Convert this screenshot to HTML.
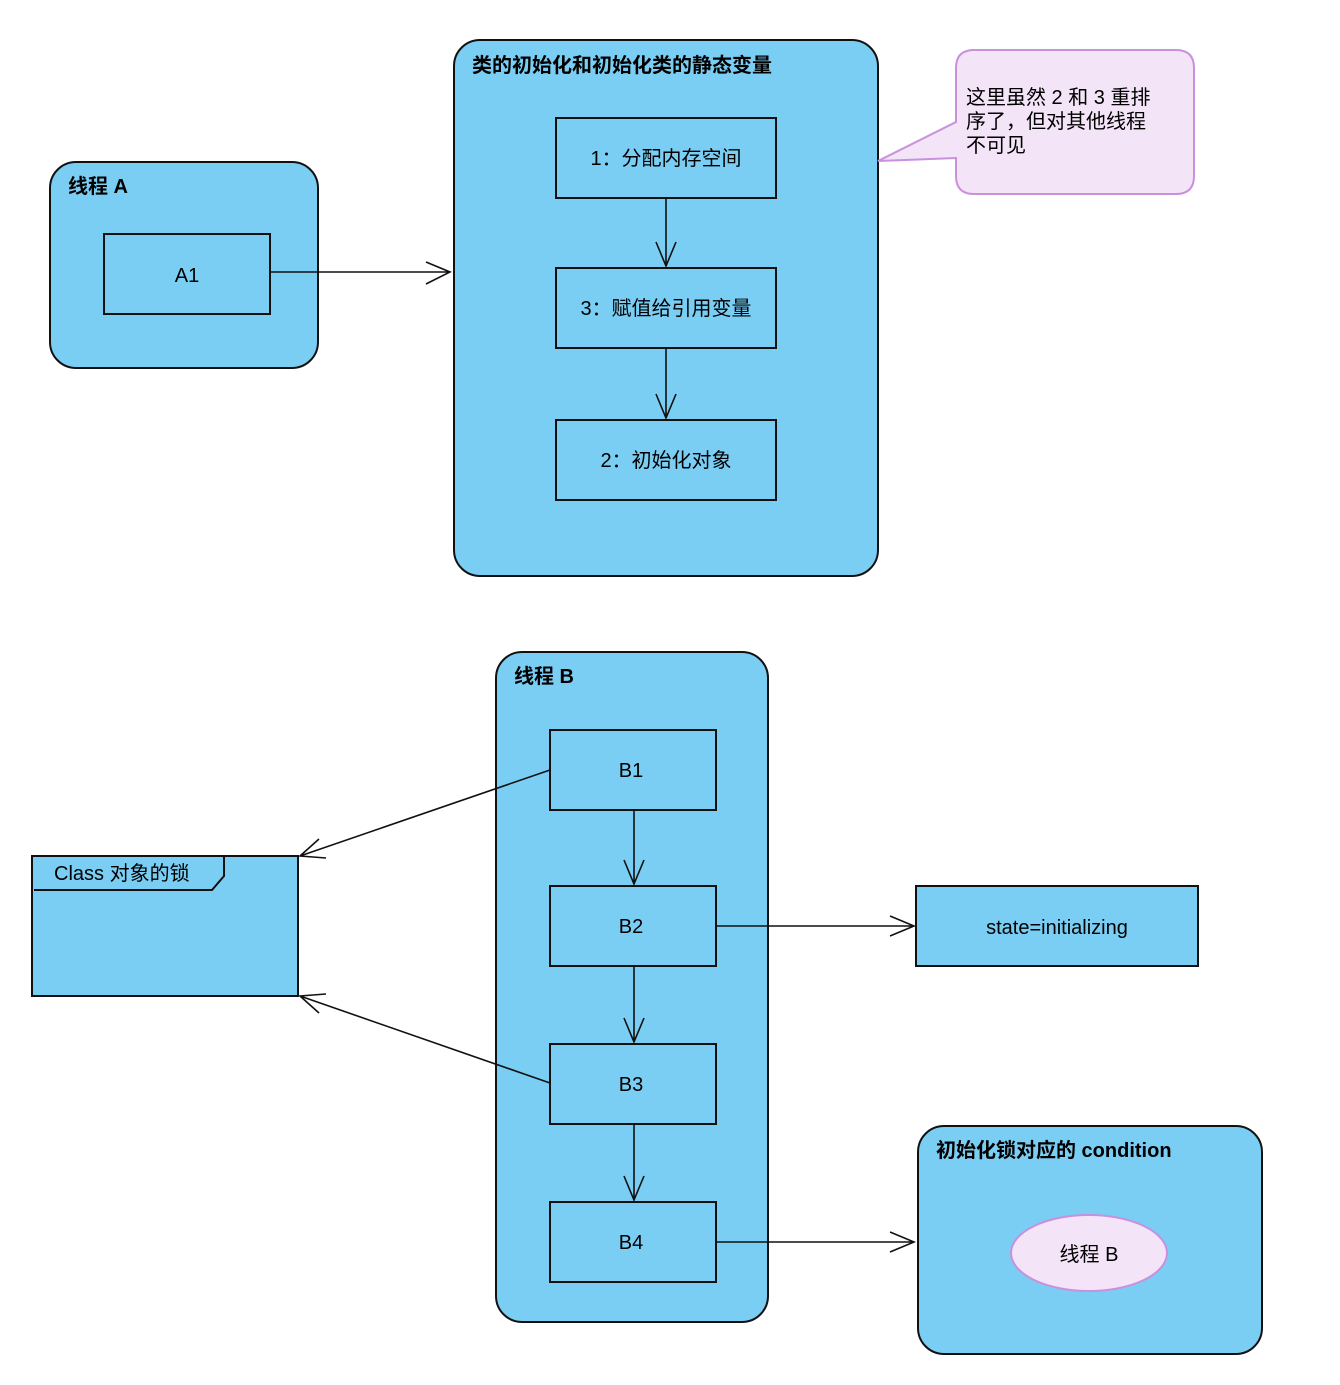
<!DOCTYPE html>
<html><head><meta charset="utf-8"><style>
body{margin:0;background:#fff}
svg text{font-family:"Liberation Sans","Noto Sans CJK SC",sans-serif;font-size:20px;fill:#000}
.b{font-weight:bold}
</style></head><body>
<svg width="1340" height="1380" xmlns="http://www.w3.org/2000/svg">
<g stroke="#111" stroke-width="2" fill="#7ACEF4">
<rect x="50" y="162" width="268" height="206" rx="26"/>
<rect x="104" y="234" width="166" height="80"/>
<rect x="454" y="40" width="424" height="536" rx="26"/>
<rect x="556" y="118" width="220" height="80"/>
<rect x="556" y="268" width="220" height="80"/>
<rect x="556" y="420" width="220" height="80"/>
<rect x="496" y="652" width="272" height="670" rx="26"/>
<rect x="550" y="730" width="166" height="80"/>
<rect x="550" y="886" width="166" height="80"/>
<rect x="550" y="1044" width="166" height="80"/>
<rect x="550" y="1202" width="166" height="80"/>
<rect x="32" y="856" width="266" height="140"/>
<rect x="916" y="886" width="282" height="80"/>
<rect x="918" y="1126" width="344" height="228" rx="26"/>
</g>
<path d="M34 890 H212 L224 876 V857" fill="none" stroke="#111" stroke-width="2"/>
<path d="M974 50 H1176 Q1194 50 1194 68 V176 Q1194 194 1176 194 H974 Q956 194 956 176 V158 L878 161 L956 122 V68 Q956 50 974 50 Z" fill="#F4E4F8" stroke="#C890DD" stroke-width="2"/>
<ellipse cx="1089" cy="1253" rx="78" ry="38" fill="#F4E4F8" stroke="#C890DD" stroke-width="2"/>
<g stroke="#111" stroke-width="1.6" fill="none">
<path d="M270 272 H450 M426 262 L450 272 L426 284"/>
<path d="M666 198 V266 M656 242 L666 266 L676 242"/>
<path d="M666 348 V418 M656 394 L666 418 L676 394"/>
<path d="M634 810 V884 M624 860 L634 884 L644 860"/>
<path d="M634 966 V1042 M624 1018 L634 1042 L644 1018"/>
<path d="M634 1124 V1200 M624 1176 L634 1200 L644 1176"/>
<path d="M716 926 H914 M890 916 L914 926 L890 936"/>
<path d="M716 1242 H914 M890 1232 L914 1242 L890 1252"/>
<path d="M550 770 L300 856 M326 858 L300 856 L319 839"/>
<path d="M550 1083 L300 996 M326 994 L300 996 L319 1013"/>
</g>
<text x="68" y="193" class="b">线程 A</text>
<text x="187" y="282" text-anchor="middle">A1</text>
<text x="472" y="72" class="b">类的初始化和初始化类的静态变量</text>
<text x="666" y="165" text-anchor="middle">1：分配内存空间</text>
<text x="666" y="315" text-anchor="middle">3：赋值给引用变量</text>
<text x="666" y="467" text-anchor="middle">2：初始化对象</text>
<text x="966" y="104">这里虽然 2 和 3 重排</text>
<text x="966" y="128">序了，但对其他线程</text>
<text x="966" y="152">不可见</text>
<text x="514" y="683" class="b">线程 B</text>
<text x="631" y="777" text-anchor="middle">B1</text>
<text x="631" y="933" text-anchor="middle">B2</text>
<text x="631" y="1091" text-anchor="middle">B3</text>
<text x="631" y="1249" text-anchor="middle">B4</text>
<text x="54" y="880">Class 对象的锁</text>
<text x="1057" y="934" text-anchor="middle">state=initializing</text>
<text x="936" y="1157" class="b">初始化锁对应的 condition</text>
<text x="1089" y="1261" text-anchor="middle">线程 B</text>
</svg>
</body></html>
